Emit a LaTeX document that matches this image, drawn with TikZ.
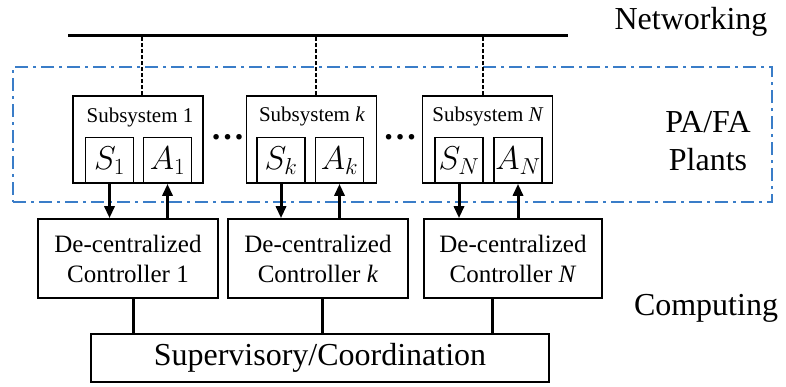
\RequirePackage{fix-cm}
\documentclass[tikz,border=0pt]{standalone}
\usepackage{fontspec}
\setmainfont{Liberation Serif}
\usetikzlibrary{arrows.meta}
\definecolor{planblue}{RGB}{58,125,200}
\tikzset{
  subbox/.style={draw, line width=1.6pt, minimum width=130pt, minimum height=87pt, inner sep=0pt},
  sabox/.style={draw, line width=1.6pt, minimum width=48pt, minimum height=45.5pt, inner sep=0pt, font=\fontsize{33}{36}\selectfont},
  ctrl/.style={draw, line width=1.6pt, minimum width=180pt, minimum height=79pt, inner sep=0pt, align=center, font=\fontsize{25}{30}\selectfont},
  subtitle/.style={font=\fontsize{21}{24}\selectfont, inner sep=0pt},
  biglabel/.style={font=\fontsize{32}{38}\selectfont, align=center, inner sep=0pt},
  netlink/.style={dash pattern=on 4pt off 2pt, line width=1.3pt},
  sig/.style={line width=3pt, -{Triangle[length=12pt,width=10pt]}},
  link/.style={line width=3pt},
  plantzone/.style={draw=planblue, line width=1.6pt, dash pattern=on 13pt off 5pt on 3pt off 5pt, minimum width=759pt, minimum height=135pt, inner sep=0pt},
}
\begin{document}
\begin{tikzpicture}[x=1pt,y=-1pt]
\useasboundingbox (0,0) rectangle (786,386);
% plant zone
\node[plantzone] (zone) at (392.5,134.5) {};
% bus
\coordinate (busL) at (68,35);
\coordinate (busR) at (568,35);
\draw[line width=3pt] (busL) -- (busR);
% subsystems
\node[subbox] (sub1) at (138,139.5) {};
\node[subbox] (subk) at (311.5,139.5) {};
\node[subbox] (subN) at (487.5,139.5) {};
\node[subtitle] (t1) at (140,117) {Subsystem 1};
\node[subtitle] (tk) at (312,116) {Subsystem \textit{k}};
\node[subtitle] (tN) at (488,116) {Subsystem \textit{N}};
\node[sabox] (S1) at (109.5,160.25) {$S_1$};
\node[sabox] (A1) at (167.5,160.25) {$A_1$};
\node[sabox] (Sk) at (281,160.25) {$S_k$};
\node[sabox] (Ak) at (339.5,160.25) {$A_k$};
\node[sabox] (SN) at (459,160.25) {$S_N$};
\node[sabox] (AN) at (518,160.25) {$A_N$};
% dots
\node[biglabel, anchor=base, font=\fontsize{34}{38}\selectfont\bfseries] (dots1) at (227.5,139) {…};
\node[biglabel, anchor=base, font=\fontsize{34}{38}\selectfont\bfseries] (dots2) at (400,139) {…};
% network links
\draw[netlink] ([xshift=4pt]sub1.north) -- ([xshift=4pt]sub1.north |- busL);
\draw[netlink] ([xshift=4.5pt]subk.north) -- ([xshift=4.5pt]subk.north |- busL);
\draw[netlink] ([xshift=-4.5pt]subN.north) -- ([xshift=-4.5pt]subN.north |- busL);
% controllers
\node[ctrl] (C1) at (128,258.5) {De-centralized\\Controller 1};
\node[ctrl] (Ck) at (318,258.5) {De-centralized\\Controller \textit{k}};
\node[ctrl, minimum width=178pt] (CN) at (513,258.5) {De-centralized\\Controller \textit{N}};
% signals
\draw[sig] (S1.south) -- (S1.south |- C1.north);
\draw[sig] (A1.south |- C1.north) -- (A1.south);
\draw[sig] (Sk.south) -- (Sk.south |- Ck.north);
\draw[sig] (Ak.south |- Ck.north) -- (Ak.south);
\draw[sig] (SN.south) -- (SN.south |- CN.north);
\draw[sig] (AN.south |- CN.north) -- (AN.south);
% supervisory
\node[draw, line width=1.6pt, minimum width=458pt, minimum height=48pt, inner sep=0pt, font=\fontsize{32}{36}\selectfont] (sup) at (320,358) {Supervisory/Coordination};
\draw[link] ([xshift=5pt]C1.south) -- ([xshift=5pt]C1.south |- sup.north);
\draw[link] ([xshift=4pt]Ck.south) -- ([xshift=4pt]Ck.south |- sup.north);
\draw[link] ([xshift=-21pt]CN.south) -- ([xshift=-21pt]CN.south |- sup.north);
% side labels
\node[biglabel] (net) at (691,22) {Networking};
\node[biglabel] (plants) at (708,141) {PA/FA\\Plants};
\node[biglabel] (comp) at (706,308) {Computing};
\end{tikzpicture}
\end{document}
